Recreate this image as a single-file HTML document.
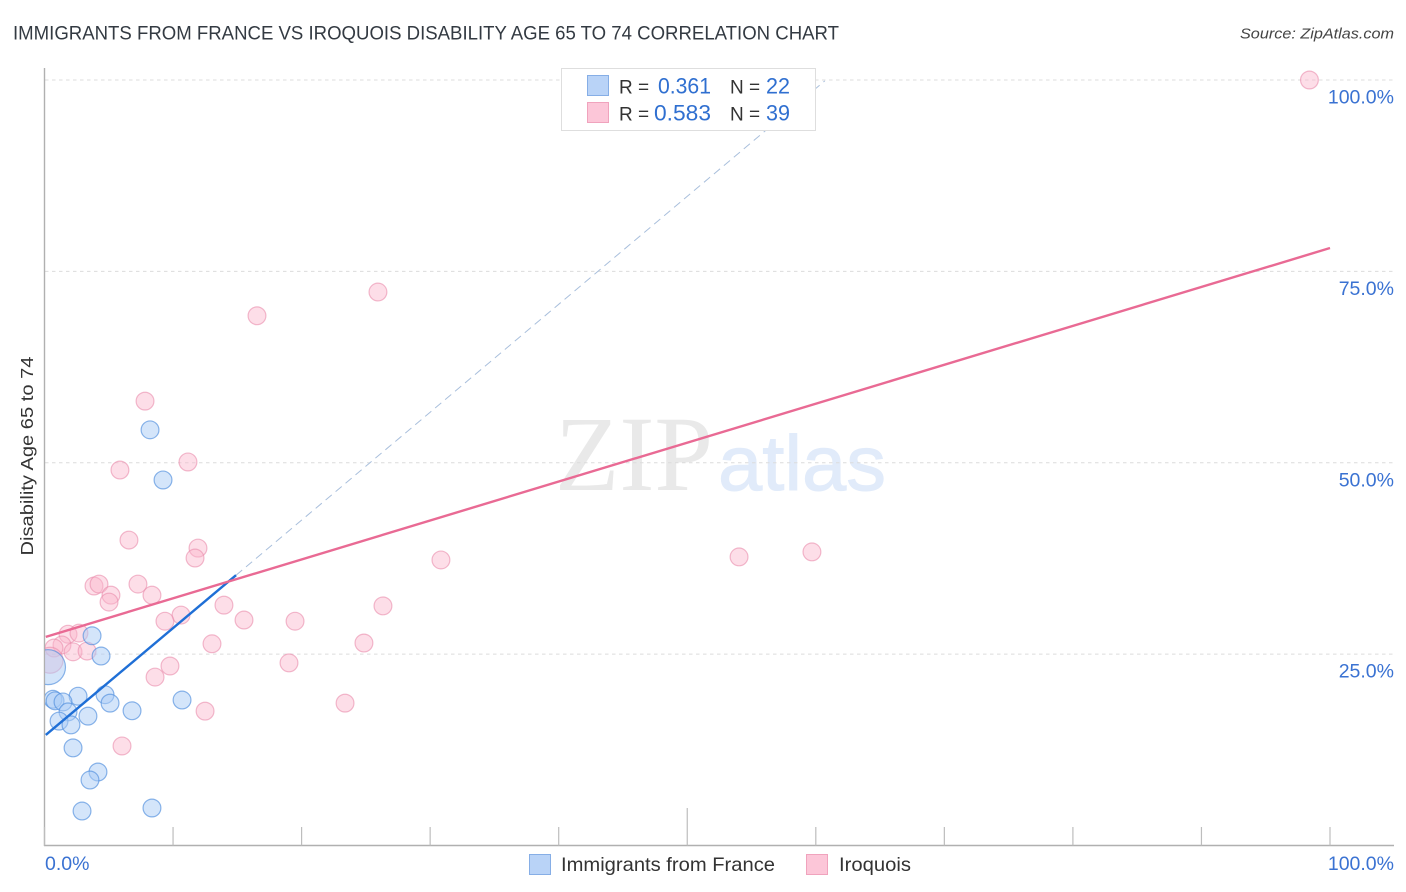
<!DOCTYPE html>
<html>
<head>
<meta charset="utf-8">
<title>Immigrants from France vs Iroquois Disability Age 65 to 74 Correlation Chart</title>
<style>
html,body{margin:0;padding:0;background:#fff;}
svg{display:block;}
text{font-family:"Liberation Sans",sans-serif;}
</style>
</head>
<body>
<svg id="chart" xmlns="http://www.w3.org/2000/svg" width="1406" height="892" viewBox="0 0 1406 892">
  <defs>
    <clipPath id="plot-clip"><rect x="45" y="60" width="1350" height="785"/></clipPath>
  </defs>
  <rect width="1406" height="892" fill="#fff"/>
  <text x="13" y="39.500" font-size="19.500" fill="#333a42" textLength="826" lengthAdjust="spacingAndGlyphs">IMMIGRANTS FROM FRANCE VS IROQUOIS DISABILITY AGE 65 TO 74 CORRELATION CHART</text>
  <text x="1394" y="38.500" font-size="15" font-style="italic" fill="#444" text-anchor="end" textLength="154" lengthAdjust="spacingAndGlyphs">Source: ZipAtlas.com</text>
  <g>
    <text x="555" y="490" font-size="107" fill="#e9e9e9" textLength="158" lengthAdjust="spacingAndGlyphs" style="font-family:'Liberation Serif',serif">ZIP</text>
    <text x="718" y="490" font-size="78" fill="#e1ebfa" stroke="#e1ebfa" stroke-width="1" textLength="168" lengthAdjust="spacingAndGlyphs">atlas</text>
  </g>
  <g id="grid"></g>
  <g id="axes"></g>
  <g id="points" clip-path="url(#plot-clip)"></g>
  <g id="trends" clip-path="url(#plot-clip)"></g>
  <g id="labels"></g>
  <text transform="translate(33,456) rotate(-90)" font-size="17.500" fill="#333" text-anchor="middle" textLength="199" lengthAdjust="spacingAndGlyphs">Disability Age 65 to 74</text>

  <g>
    <rect x="561.500" y="68.500" width="254" height="62" fill="#fff" stroke="#dedede" stroke-width="1"/>
    <rect x="587.500" y="75.500" width="21" height="20" fill="#b9d3f7" stroke="#86aee6"/>
    <rect x="587.500" y="102.500" width="21" height="20" fill="#fcc6d8" stroke="#f0a3bd"/>
    <text x="619" y="93.500" font-size="19" fill="#333">R =</text>
    <text x="711" y="93.500" font-size="22" fill="#2f6fd0" text-anchor="end" textLength="53" lengthAdjust="spacingAndGlyphs">0.361</text>
    <text x="730" y="93.500" font-size="19" fill="#333">N =</text>
    <text x="790" y="93.500" font-size="22" fill="#2f6fd0" text-anchor="end" textLength="24" lengthAdjust="spacingAndGlyphs">22</text>
    <text x="619" y="120.500" font-size="19" fill="#333">R =</text>
    <text x="711" y="120.500" font-size="22" fill="#2f6fd0" text-anchor="end" textLength="57" lengthAdjust="spacingAndGlyphs">0.583</text>
    <text x="730" y="120.500" font-size="19" fill="#333">N =</text>
    <text x="790" y="120.500" font-size="22" fill="#2f6fd0" text-anchor="end" textLength="24" lengthAdjust="spacingAndGlyphs">39</text>
  </g>

  <g>
    <rect x="529.500" y="854.500" width="21" height="20" fill="#b9d3f7" stroke="#86aee6"/>
    <text x="561" y="871" font-size="19.500" fill="#333" textLength="214" lengthAdjust="spacingAndGlyphs">Immigrants from France</text>
    <rect x="806.500" y="854.500" width="21" height="20" fill="#fcc6d8" stroke="#f0a3bd"/>
    <text x="839" y="871" font-size="19.500" fill="#333" textLength="72" lengthAdjust="spacingAndGlyphs">Iroquois</text>
  </g>
</svg>
<script>
const franceX = [8.21,9.22,3.70,4.40,2.61,4.71,5.10,0.66,0.82,1.44,1.83,3.38,6.81,10.70,1.13,2.06,2.22,4.16,3.54,2.92,8.36,0.27];
const franceY = [54.3,47.75,27.4,24.75,19.5,19.7,18.6,19.1,18.9,18.75,17.45,16.9,17.6,19.0,16.25,15.75,12.75,9.6,8.55,4.5,4.9,23.3];
const franceWeight = [1,1,1,1,1,1,1,1,1,1,1,1,1,1,1,1,1,1,1,1,1,3.87];
const iroquoisX = [98.4,25.94,16.53,7.82,11.16,5.87,6.57,11.94,11.71,30.84,54.03,59.7,3.85,4.24,7.27,5.17,8.36,5.02,13.96,26.33,10.62,9.37,15.52,19.49,1.83,2.68,1.36,0.74,2.22,3.31,13.03,24.85,19.02,9.76,8.6,23.38,12.49,6.03,0.43];
const iroquoisY = [100,72.3,69.2,58.05,50.1,49.05,39.9,38.85,37.55,37.3,37.7,38.35,33.9,34.15,34.15,32.7,32.7,31.8,31.4,31.3,30.1,29.3,29.45,29.3,27.6,27.75,26.2,25.8,25.3,25.4,26.35,26.45,23.85,23.45,22,18.6,17.55,13,24.2];
const iroquoisWeight = [1,1,1,1,1,1,1,1,1,1,1,1,1,1,1,1,1,1,1,1,1,1,1,1,1,1,1,1,1,1,1,1,1,1,1,1,1,1,2.13];
const franceTrend = [14.3, 1.41];
const franceSolidEnd = 14.9;
const franceDashEnd = 60.7;
const iroquoisTrend = [27.2, 0.5085];
const iroquoisEnd = 100;
const yTicks = [25, 50, 75, 100];
const yTickLabels = ["25.0%", "50.0%", "75.0%", "100.0%"];
const xTicks = [0, 10, 20, 30, 40, 50, 60, 70, 80, 90, 100];
const xEndLabels = ["0.0%", "100.0%"];

const SVG_NS = "http://www.w3.org/2000/svg";
const xScale = v => 44.5 + v * 12.855;
const yScale = v => 845.5 - v * 7.655;
const rScale = w => 8.9 * Math.sqrt(w);

function make(parent, tag, attrs) {
  const el = document.createElementNS(SVG_NS, tag);
  for (const k in attrs) el.setAttribute(k, attrs[k]);
  document.getElementById(parent).appendChild(el);
  return el;
}

yTicks.forEach((t, i) => {
  const line = make("grid", "line", {x1: 45, x2: 1394, y1: yScale(t), y2: yScale(t), stroke: "#dcdcdc", "stroke-width": 1, "stroke-dasharray": "3.5 3.5"});
  
  
  const label = make("labels", "text", {x: 1394, y: yScale(t) + 23.5, "font-size": 19.5, fill: "#3a72d2", "text-anchor": "end"});
  label.textContent = yTickLabels[i];
  
  
});

const yAxis = make("axes", "line", {x1: 44.5, x2: 44.5, y1: 68, y2: 846, stroke: "#b0b0b0", "stroke-width": 1.4});


const xAxis = make("axes", "line", {x1: 44, x2: 1394, y1: 845.5, y2: 845.5, stroke: "#b0b0b0", "stroke-width": 1.4});


xTicks.forEach(t => {
  const top = t === 50 ? 808 : 827;
  const tick = make("axes", "line", {x1: xScale(t), x2: xScale(t), y1: top, y2: 845.5, stroke: "#bdbdbd", "stroke-width": 1.2});
  
  
});
const xLabelLeft = make("labels", "text", {x: 45, y: 870, "font-size": 19.5, fill: "#3a72d2"});
xLabelLeft.textContent = xEndLabels[0];


const xLabelRight = make("labels", "text", {x: 1394, y: 870, "font-size": 19.5, fill: "#3a72d2", "text-anchor": "end"});
xLabelRight.textContent = xEndLabels[1];



iroquoisX.forEach((v, i) => {
  const dot = make("points", "circle", {cx: xScale(v), cy: yScale(iroquoisY[i]), r: rScale(iroquoisWeight[i]), fill: "#fbb6cd", "fill-opacity": 0.45, stroke: "#ea8cac", "stroke-opacity": 0.6, "stroke-width": 1.2});
  
  
});
franceX.forEach((v, i) => {
  const dot = make("points", "circle", {cx: xScale(v), cy: yScale(franceY[i]), r: rScale(franceWeight[i]), fill: "#a9cbf5", "fill-opacity": 0.5, stroke: "#4f8ddd", "stroke-opacity": 0.65, "stroke-width": 1.2});
  
  
});

const lineAt = (c, x) => c[0] + c[1] * x;
const dash = make("trends", "line", {x1: xScale(franceSolidEnd), y1: yScale(lineAt(franceTrend, franceSolidEnd)), x2: xScale(franceDashEnd), y2: yScale(lineAt(franceTrend, franceDashEnd)), stroke: "#a9bfdc", "stroke-width": 1, "stroke-dasharray": "8 5"});


const solid = make("trends", "line", {x1: xScale(0.1), y1: yScale(lineAt(franceTrend, 0.1)), x2: xScale(franceSolidEnd), y2: yScale(lineAt(franceTrend, franceSolidEnd)), stroke: "#1f6fd6", "stroke-width": 2.4});


const pinkLine = make("trends", "line", {x1: xScale(0.1), y1: yScale(lineAt(iroquoisTrend, 0.1)), x2: xScale(iroquoisEnd), y2: yScale(lineAt(iroquoisTrend, iroquoisEnd)), stroke: "#e96a94", "stroke-width": 2.4});


</script>
</body>
</html>
